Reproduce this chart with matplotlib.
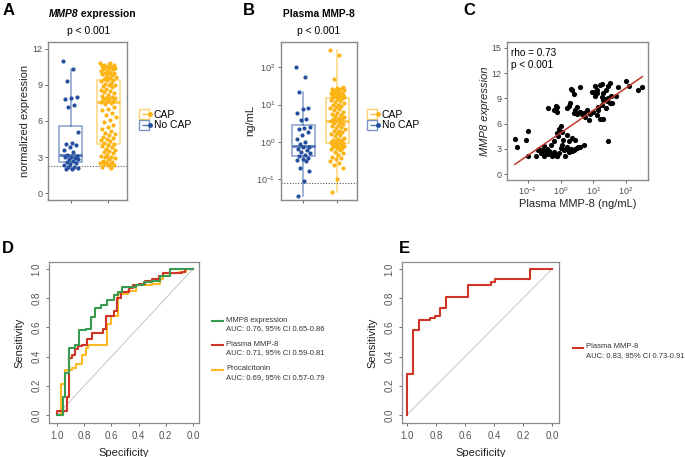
import numpy as np
import matplotlib
matplotlib.use("Agg")
import matplotlib.pyplot as plt
from matplotlib import cbook
from matplotlib.lines import Line2D
from matplotlib.legend_handler import HandlerTuple

plt.rcParams['font.family'] = ['Liberation Sans', 'DejaVu Sans']
plt.rcParams['mathtext.fontset'] = 'custom'
plt.rcParams['mathtext.rm'] = 'Liberation Sans'
plt.rcParams['mathtext.it'] = 'Liberation Sans:italic'
plt.rcParams['mathtext.bf'] = 'Liberation Sans:bold'

# ---- data ----
groups = ["No CAP", "CAP"]

# A: MMP8 normalized expression
expr_nocap = [11.0, 10.3, 9.3, 8.0, 7.9, 7.8, 7.3, 7.2, 5.1, 4.2, 4.1, 4.0, 3.8, 3.6, 3.4, 3.2,
              3.1, 3.0, 3.0, 2.9, 2.8, 2.8, 2.7, 2.6, 2.5, 2.4, 2.3, 2.2, 2.2, 2.1, 2.0, 2.0]
expr_cap = [10.8, 10.8, 10.7, 10.7, 10.6, 10.6, 10.5, 10.5, 10.4, 10.4, 10.3, 10.3, 10.2, 10.2, 10.1, 10.0,
            10.0, 9.9, 9.9, 9.8, 9.7, 9.7, 9.6, 9.5,
            9.4, 9.4, 9.3, 9.2, 9.1, 9.0, 9.0, 8.9, 8.8, 8.7, 8.6, 8.5, 8.4, 8.3, 8.2, 8.1,
            8.0, 7.9, 7.9, 7.8, 7.8, 7.7, 7.7, 7.6,
            7.5, 7.4, 7.2, 7.0, 6.9, 6.7, 6.5, 6.3, 6.1, 5.9, 5.7, 5.5, 5.3, 5.2, 5.0, 4.9,
            4.8, 4.7, 4.6, 4.5, 4.4, 4.3, 4.2, 4.1,
            4.0, 3.9, 3.8, 3.7, 3.6, 3.5, 3.4, 3.3, 3.2, 3.1, 3.0, 3.0, 2.9, 2.8, 2.7, 2.6,
            2.6, 2.5, 2.4, 2.4, 2.3, 2.3, 2.2, 2.1]
expr_lod = 2.25

# B: plasma MMP-8 (ng/mL)
plasma_nocap = [105, 56, 22, 8.3, 7.6, 6.0, 4.1, 3.9, 2.5, 2.4, 2.2, 1.8, 1.5, 1.2, 1.0, 0.85,
                0.75, 0.72, 0.65, 0.6, 0.55, 0.5, 0.45, 0.42, 0.37, 0.35, 0.33, 0.3, 0.2, 0.17, 0.09, 0.035]
plasma_cap = [300, 210, 50, 30, 28, 27, 26, 25, 24, 23, 22, 21, 20, 20, 19, 19, 18, 18, 17, 17,
              16.5, 16, 16, 15.8,
              15, 14, 13, 12.5, 12, 11, 10, 9.5, 9, 8.5, 8, 7.5, 7, 6.5, 6, 5.5, 5.2, 5, 4.7, 4.4,
              4.2, 4, 3.8, 3.6,
              3.4, 3.2, 3.0, 2.8, 2.6, 2.5, 2.4, 2.2, 2.0, 1.9, 1.8, 1.7, 1.6, 1.5, 1.4, 1.3,
              1.2, 1.15, 1.1, 1.05, 1.0, 0.97, 0.94, 0.92,
              0.88, 0.85, 0.82, 0.8, 0.78, 0.75, 0.72, 0.7, 0.68, 0.65, 0.6, 0.55, 0.5, 0.45,
              0.4, 0.38, 0.35, 0.3, 0.27, 0.24, 0.2, 0.1, 0.045]
plasma_lod = 0.08

# C: correlation
corr_plasma = [0.04, 0.047, 0.089, 0.1, 0.1, 0.18, 0.2, 0.22, 0.25, 0.28, 0.32, 0.32, 0.35, 0.38,
               0.4, 0.45, 0.5, 0.5, 0.56, 0.63, 0.63, 0.71, 0.76, 0.79, 0.79, 0.83, 0.89, 0.89,
               1.0, 1.12, 1.2, 1.26, 1.32, 1.41, 1.58, 1.58, 1.78, 1.78, 2.0, 2.24, 2.24, 2.5,
               2.8, 2.8, 3.16, 3.5, 4.0, 5.0, 28.2,
               0.42, 0.63, 0.71, 0.79, 0.79, 1.12, 1.0, 1.58, 1.78, 1.9, 2.0, 2.24, 2.5, 2.6,
               2.8, 3.16, 4.0, 4.5, 5.6, 4.0,
               6.3, 7.1, 7.9, 8.9, 10, 10, 11.2, 11.2, 12.6, 14.1, 12.6, 13.2, 14.1, 15.8, 17.8,
               17.8, 19, 20, 20, 22.4, 24, 25, 26.3, 28.2, 28.2, 31.6, 33, 35.5, 38, 50, 56,
               100, 126, 224, 316, 20, 15.8, 4.0, 3.16, 5.0]
corr_expr = [4.2, 3.2, 4.1, 5.1, 2.1, 2.1, 2.9, 3.0, 2.5, 2.9, 3.3, 2.2, 2.6, 3.0,
             2.4, 2.8, 2.4, 3.5, 2.1, 3.9, 2.6, 2.3, 2.2, 2.1, 4.9, 4.5, 5.4, 2.5,
             3.1, 3.5, 4.0, 2.9, 2.1, 3.0, 4.6, 3.2, 3.9, 2.6, 3.0, 4.3, 2.8, 2.9,
             4.1, 3.0, 3.1, 3.2, 3.2, 3.5, 3.9,
             7.8, 7.6, 8.1, 7.4, 8.0, 5.0, 5.7, 7.9, 8.1, 8.4, 10.1, 10.0, 9.5, 7.3,
             7.6, 7.1, 7.4, 7.1, 6.8, 10.3,
             7.6, 6.4, 7.2, 9.8, 9.7, 7.4, 10.5, 9.3, 7.0, 7.6, 10.0, 9.6, 8.0, 10.6, 8.2,
             9.2, 10.7, 8.8, 9.6, 8.9, 10.0, 7.8, 8.7, 10.5, 9.0, 10.8, 8.5, 9.3, 8.4, 9.3, 10.4,
             11.1, 10.5, 10.0, 10.4, 6.6, 6.5, 7.4, 8.0, 7.3]

# D: ROC curves (specificity, sensitivity)
roc_mmp8_spec = [1.0, 0.96, 0.94, 0.91, 0.87, 0.84, 0.79, 0.75, 0.72, 0.68, 0.63, 0.58, 0.55, 0.52,
                 0.42, 0.36, 0.30, 0.24, 0.17, 0.0]
roc_mmp8_sens = [0.0, 0.12, 0.29, 0.46, 0.48, 0.58, 0.59, 0.67, 0.73, 0.75, 0.79, 0.82, 0.84, 0.88,
                 0.89, 0.91, 0.92, 0.95, 1.0, 1.0]
roc_plasma_spec = [1.0, 1.0, 0.93, 0.91, 0.89, 0.87, 0.85, 0.82, 0.78, 0.74, 0.66, 0.64, 0.58, 0.56,
                   0.53, 0.47, 0.44, 0.40, 0.35, 0.30, 0.25, 0.22, 0.08, 0.06, 0.0]
roc_plasma_sens = [0.0, 0.03, 0.12, 0.39, 0.41, 0.45, 0.47, 0.48, 0.52, 0.56, 0.59, 0.68, 0.71, 0.80,
                   0.84, 0.87, 0.89, 0.90, 0.92, 0.93, 0.95, 0.97, 0.98, 1.0, 1.0]
roc_pct_spec = [1.0, 0.97, 0.94, 0.89, 0.86, 0.82, 0.79, 0.77, 0.63, 0.60, 0.55, 0.48, 0.42, 0.30,
                0.24, 0.22, 0.10, 0.05, 0.0]
roc_pct_sens = [0.0, 0.21, 0.31, 0.32, 0.35, 0.41, 0.46, 0.48, 0.62, 0.68, 0.83, 0.85, 0.89, 0.90,
                0.93, 0.97, 0.98, 1.0, 1.0]
roc_labels = ["MMP8 expression\nAUC: 0.76, 95% CI 0.65-0.86",
              "Plasma MMP-8\nAUC: 0.71, 95% CI 0.59-0.81",
              "Procalcitonin\nAUC: 0.69, 95% CI 0.57-0.79"]

# E: ROC plasma MMP-8 (second cohort)
roc_e_spec = [1.0, 1.0, 0.96, 0.92, 0.84, 0.81, 0.77, 0.73, 0.58, 0.42, 0.39, 0.155, 0.0]
roc_e_sens = [0.0, 0.28, 0.58, 0.65, 0.665, 0.68, 0.73, 0.81, 0.89, 0.91, 0.93, 1.0, 1.0]
roc_e_label = "Plasma MMP-8\nAUC: 0.83, 95% CI 0.73-0.91"

# ---- styles ----
blue = "#24509f"
orange = "#fbb414"
green = "#3a9a50"
red = "#cf3424"
yellow = "#fdb924"
tick_col = "#4d4d4d"
W, H = 685, 457


def fbox(l, t, r, b):
    return [l / W, 1 - b / H, (r - l) / W, (b - t) / H]


def jitter(n, width):
    return np.array([(((i * 0.618034) % 1.0) - 0.5) * 2 * width for i in range(n)])


def gg_axes(ax):
    for s in ax.spines.values():
        s.set_color("#8a8a8a")
        s.set_linewidth(1.0)
    ax.tick_params(colors=tick_col, labelsize=6.5, length=2.5, width=0.6, pad=1.5)


def box_points(ax, datas, log=False, xlim=(0.4, 2.6), width=0.62, whis=(1.5, 1.5)):
    cols = [blue, orange]
    for i, (d, c) in enumerate(zip(datas, cols)):
        d = np.array(d, dtype=float)
        vals = np.log10(d) if log else d
        st = cbook.boxplot_stats(vals, whis=whis[i])[0]
        if log:
            for k in ["med", "q1", "q3", "whislo", "whishi"]:
                st[k] = 10 ** st[k]
        st["fliers"] = []
        ax.bxp([st], positions=[i + 1], widths=width, showfliers=False, patch_artist=True,
               boxprops=dict(facecolor="none", edgecolor=c, alpha=0.55, linewidth=1.1),
               whiskerprops=dict(color=c, alpha=0.55, linewidth=1.1),
               capprops=dict(linewidth=0),
               medianprops=dict(color=c, alpha=0.75, linewidth=2.0))
        xs = i + 1 + jitter(len(d), 0.21)
        ax.scatter(xs, d, s=9, color=c, zorder=3, linewidths=0)
    ax.set_xlim(*xlim)
    ax.set_xticks([1, 2])
    ax.set_xticklabels(["", ""])


def legend_groups(ax, x, y):
    hs = []
    for c in [orange, blue]:
        hs.append((Line2D([], [], marker="s", ms=7, mfc="none", mec=c, alpha=0.6, ls=""),
                   Line2D([], [], marker="_", ms=7, mec=c, alpha=0.8, ls=""),
                   Line2D([], [], marker="o", ms=2.5, color=c, ls="")))
    ax.legend(hs, ["CAP", "No CAP"], handler_map={tuple: HandlerTuple(ndivide=None, pad=0)},
              loc="center left", bbox_to_anchor=(x / W, 1 - y / H), bbox_transform=fig.transFigure,
              frameon=False, fontsize=7.5, handlelength=0.9, handletextpad=0.2, labelspacing=0.05,
              borderpad=0)


fig = plt.figure(figsize=(6.85, 4.57), dpi=100)

# ---- A ----
axA = fig.add_axes(fbox(48, 42, 127, 200))
gg_axes(axA)
box_points(axA, [expr_nocap, expr_cap], xlim=(0.38, 2.51), whis=(1.65, 1.5))
axA.axhline(expr_lod, color="#555555", ls=(0, (1, 1.5)), lw=0.8)
axA.set_ylim(-0.58, 12.58)
axA.set_yticks([0, 3, 6, 9, 12])
axA.set_ylabel("normalized expression", fontsize=8, color="#222222", labelpad=2)
fig.text(78 / W, 1 - 14 / H, "MMP8", fontsize=7.4, fontweight="bold", fontstyle="italic",
         ha="right", va="center")
fig.text(78 / W, 1 - 14 / H, " expression", fontsize=7.4, fontweight="bold", ha="left", va="center")
fig.text(89 / W, 1 - 31 / H, "p < 0.001", fontsize=7.4, ha="center", va="center")
legend_groups(axA, 137, 120)

# ---- B ----
axB = fig.add_axes(fbox(281, 42, 357, 200))
gg_axes(axB)
axB.set_yscale("log")
box_points(axB, [plasma_nocap, plasma_cap], log=True, xlim=(0.35, 2.57), width=0.66)
axB.axhline(plasma_lod, color="#555555", ls=(0, (1, 1.5)), lw=0.8)
axB.set_ylim(10 ** -1.56, 10 ** 2.68)
axB.set_yticks([0.1, 1, 10, 100])
axB.set_yticklabels(["$10^{-1}$", "$10^{0}$", "$10^{1}$", "$10^{2}$"])
axB.minorticks_off()
axB.set_ylabel("ng/mL", fontsize=8, color="#222222", labelpad=1)
fig.text(319 / W, 1 - 14 / H, "Plasma MMP-8", fontsize=7.4, fontweight="bold", ha="center", va="center")
fig.text(319 / W, 1 - 31 / H, "p < 0.001", fontsize=7.4, ha="center", va="center")
legend_groups(axB, 365, 120)

# ---- C ----
axC = fig.add_axes(fbox(507, 42, 648, 180))
gg_axes(axC)
axC.set_xscale("log")
axC.scatter(corr_plasma, corr_expr, s=14, color="black", linewidths=0, zorder=3)
lx = np.log10(corr_plasma)
slope, icpt = np.polyfit(lx, corr_expr, 1)
xx = np.array([lx.min(), lx.max()])
axC.plot(10 ** xx, icpt + slope * xx, color="#c0392b", lw=1.1, zorder=4)
axC.set_xlim(10 ** -1.64, 10 ** 2.67)
axC.set_ylim(-0.7, 15.7)
axC.set_yticks([0, 3, 6, 9, 12, 15])
axC.set_xticks([0.1, 1, 10, 100])
axC.set_xticklabels(["$10^{-1}$", "$10^{0}$", "$10^{1}$", "$10^{2}$"])
axC.minorticks_off()
axC.set_xlabel("Plasma MMP-8 (ng/mL)", fontsize=8, color="#222222", labelpad=1)
axC.set_ylabel("MMP8 expression", fontsize=8, color="#222222", fontstyle="italic", labelpad=1)
axC.text(0.03, 0.96, "rho = 0.73\np < 0.001", transform=axC.transAxes, fontsize=7.2,
         va="top", ha="left", linespacing=1.3)


# ---- D & E (ROC) ----
def roc_axes(ax):
    for s in ax.spines.values():
        s.set_color("#8a8a8a")
        s.set_linewidth(0.9)
    ax.plot([1, 0], [0, 1], color="#bbbbbb", lw=0.6)
    ax.set_xlim(1.06, -0.045)
    ax.set_ylim(-0.055, 1.048)
    ax.set_xticks([1.0, 0.8, 0.6, 0.4, 0.2, 0.0])
    ax.set_yticks([0.0, 0.2, 0.4, 0.6, 0.8, 1.0])
    ax.set_xticklabels(["1.0", "0.8", "0.6", "0.4", "0.2", "0.0"])
    ax.set_yticklabels(["0.0", "0.2", "0.4", "0.6", "0.8", "1.0"], rotation=90, va="center")
    ax.tick_params(colors="#555555", labelsize=7, length=2.5, width=0.6, pad=3)
    ax.set_xlabel("Specificity", fontsize=8, color="#222222", labelpad=5)
    ax.set_ylabel("Sensitivity", fontsize=8, color="#222222", labelpad=5)


axD = fig.add_axes(fbox(49, 262, 199, 423))
roc_axes(axD)
axD.plot(roc_pct_spec, roc_pct_sens, drawstyle="steps-post", color=yellow, lw=1.5)
axD.plot(roc_plasma_spec, roc_plasma_sens, drawstyle="steps-post", color=red, lw=1.5)
axD.plot(roc_mmp8_spec, roc_mmp8_sens, drawstyle="steps-post", color=green, lw=1.5)

for lab, c, yy in zip(roc_labels, [green, red, yellow], [321, 345, 370]):
    fig.add_artist(Line2D([212 / W, 223 / W], [1 - yy / H, 1 - yy / H], color=c, lw=1.5))
    fig.text(226 / W, 1 - (yy - 4.5) / H, lab, fontsize=5.5, color="#333333", va="top", ha="left",
             linespacing=1.25)

axE = fig.add_axes(fbox(402, 262, 559, 423))
roc_axes(axE)
axE.set_xlim(1.034, -0.048)
axE.plot(roc_e_spec, roc_e_sens, drawstyle="steps-post", color=red, lw=1.5)
fig.add_artist(Line2D([573 / W, 583 / W], [1 - 348 / H, 1 - 348 / H], color=red, lw=1.5))
fig.text(586 / W, 1 - (348 - 4.5) / H, roc_e_label, fontsize=5.5, color="#333333", va="top", ha="left",
         linespacing=1.25)

# panel letters
for letter, x, y in [("A", 3, 3), ("B", 243, 3), ("C", 463, 3), ("D", 2, 241), ("E", 399, 241)]:
    fig.text(x / W, 1 - y / H, letter, fontsize=12, fontweight="bold", va="top", ha="left")

fig.savefig("out.png", dpi=100)
